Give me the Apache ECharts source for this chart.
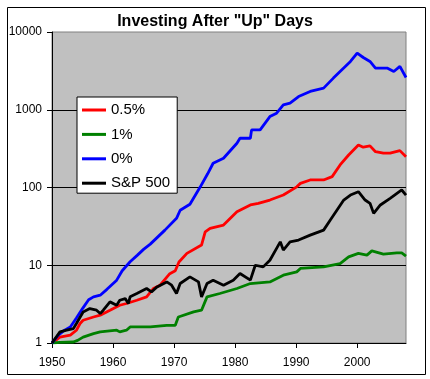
<!DOCTYPE html>
<html>
<head>
<meta charset="utf-8">
<script src="https://cdn.jsdelivr.net/npm/echarts@6/dist/echarts.min.js"></script>
<style>
html,body{margin:0;padding:0;background:#fff;}
#chart{width:430px;height:379px;}
</style>
</head>
<body>
<div id="chart"></div>
<script>
var chartTitle = 'Investing After "Up" Days';
var seriesNames = ['0.5%', '1%', '0%', 'S&P 500'];
var xTickLabels = [1950, 1960, 1970, 1980, 1990, 2000];
var yTickLabels = [1, 10, 100, 1000, 10000];

var redYears = [1950,1951.3,1953,1954,1954.6,1955.1,1956.8,1957.9,1959.5,1961.1,1962.2,1963.9,1965.5,1966.6,1967.7,1969.3,1970.2,1970.8,1972.1,1974.5,1975.1,1975.9,1978.1,1980.3,1982.5,1983.8,1985.7,1987.9,1990.1,1990.7,1992.3,1994.5,1995.9,1997.2,1998.6,2000.2,2001,2002.1,2003,2004.3,2005.4,2007,2008];
var redValues = [1.0,1.19,1.26,1.46,1.78,1.96,2.16,2.28,2.64,3.06,3.22,3.55,3.92,5.02,5.54,7.8,8.5,11,14.2,18.2,26.9,29.8,32.9,48.8,59.6,62.6,69,80,102,113,125,125,138,195,262,353,330,343,289,276,276,298,249];

var greenYears = [1950,1951.3,1953.5,1954.2,1955.1,1956.8,1957.9,1960.6,1961.1,1962.2,1962.8,1966.1,1968.8,1970.2,1970.7,1973.2,1974.5,1975.4,1977.5,1980.3,1982.5,1985.7,1987.9,1990.1,1990.7,1994.5,1997.2,1998.6,2000.2,2001.6,2002.4,2004.3,2006.5,2007.3,2008];
var greenValues = [1.0,1.02,1.03,1.08,1.19,1.32,1.39,1.46,1.39,1.46,1.61,1.61,1.69,1.69,2.16,2.51,2.64,3.92,4.33,5.02,5.82,6.11,7.45,8.22,9.1,9.53,10.5,12.8,14.2,13.5,15.3,13.9,14.4,14.4,13.1];

var blueYears = [1950,1951,1952,1953,1954,1955,1956,1956.8,1957.9,1959,1960.6,1961.5,1962.8,1964,1965,1966.1,1967.3,1968.5,1970.4,1971,1972.6,1974.3,1975.5,1976.4,1978.1,1980.3,1980.8,1982.5,1982.7,1984.1,1985.7,1986.8,1987.9,1989,1990.4,1992.3,1994.5,1996.1,1997.2,1998.9,2000,2001,2002.1,2003,2004.9,2006,2007,2008];
var blueValues = [1.0,1.25,1.45,1.61,2.1,2.77,3.6,3.92,4.12,4.9,6.43,8.5,11.1,13.5,16,18.7,23,28.3,40.1,51,61,102,150,205,238,371,430,430,551,551,817,904,1156,1217,1479,1718,1897,2553,3107,4177,5360,4700,4177,3436,3436,3107,3606,2600];

var spYears = [1950,1951.3,1952.4,1953.5,1954,1955.1,1956.2,1957.3,1957.9,1958.4,1959.5,1960.6,1961.1,1962,1962.5,1962.8,1963.9,1965.5,1966.3,1967.2,1968.8,1969.6,1970.4,1971,1972.6,1974,1974.5,1975.4,1976.4,1978.1,1979.7,1980.8,1982.5,1983.3,1984.6,1985.7,1986.8,1987.4,1987.9,1989,1990.4,1992.3,1994.5,1995.6,1996.7,1997.8,1998.9,2000.2,2001.3,2002.1,2002.7,2003.8,2005.4,2007.3,2008];
var spValues = [1.0,1.39,1.46,1.53,1.78,2.51,2.77,2.64,2.39,2.64,3.38,3.06,3.55,3.73,3.22,3.92,4.33,5.02,4.54,5.27,6.11,5.54,4.33,5.82,7.09,6.11,3.92,5.82,6.43,5.54,6.43,7.84,6.43,10.0,9.53,11.6,16.5,20.0,15.7,20.0,21.1,24.4,28.3,38.1,51.3,69.0,80.0,88.3,69.0,62.6,46.5,59.6,72.6,92.9,80];

function pairs(xs, ys) {
  var out = [];
  for (var i = 0; i < xs.length; i++) out.push([xs[i], ys[i]]);
  return out;
}

var font = 'Arial, "Liberation Sans", sans-serif';
var chart = echarts.init(document.getElementById('chart'), null, {renderer: 'canvas'});

function mkSeries(name, color, data) {
  return {
    name: name, type: 'line', data: data, showSymbol: false, symbol: 'none',
    smooth: false, lineStyle: {color: color, width: 2.8}, itemStyle: {color: color},
    emphasis: {disabled: true}
  };
}

chart.setOption({
  animation: false,
  backgroundColor: '#ffffff',
  title: {
    text: chartTitle, left: 'center', top: 9,
    textStyle: {fontFamily: font, fontWeight: 'bold', fontSize: 16, color: '#000'}
  },
  graphic: [{
    type: 'rect', left: 5, top: 5, silent: true,
    shape: {x: 0, y: 0, width: 418, height: 367},
    style: {fill: null, stroke: '#000', lineWidth: 1}
  }],
  legend: {
    orient: 'vertical', left: 77, top: 97,
    data: seriesNames,
    icon: 'rect', itemWidth: 24, itemHeight: 3, itemGap: 6.4,
    backgroundColor: '#ffffff', borderColor: '#000', borderWidth: 1, borderRadius: 0,
    padding: [4, 7, 1, 5],
    textStyle: {fontFamily: font, fontSize: 15, color: '#000', lineHeight: 18}
  },
  grid: {
    left: 52, top: 32, right: 24, bottom: 36,
    show: true, backgroundColor: '#C0C0C0', borderColor: '#808080', borderWidth: 1,
    containLabel: false, outerBoundsMode: 'none'
  },
  xAxis: {
    type: 'value', min: 1950, max: 2008, interval: 10,
    axisLine: {show: true, lineStyle: {color: '#000', width: 1}},
    axisTick: {show: true, inside: false, length: 5, lineStyle: {color: '#000'}, customValues: xTickLabels},
    axisLabel: {fontFamily: font, fontSize: 12, color: '#000', margin: 14, customValues: xTickLabels,
      formatter: function (v) { return String(v); }},
    splitLine: {show: false}
  },
  yAxis: {
    type: 'log', logBase: 10, min: 1, max: 10000,
    axisLine: {show: true, lineStyle: {color: '#000', width: 1}},
    axisTick: {show: true, inside: false, length: 5, lineStyle: {color: '#000'}},
    axisLabel: {fontFamily: font, fontSize: 12, color: '#000', margin: 10,
      formatter: function (v) { return String(Math.round(v)); }},
    splitLine: {show: true, showMinLine: false, showMaxLine: false, lineStyle: {color: '#000', width: 1}},
    minorTick: {show: false}, minorSplitLine: {show: false}
  },
  series: [
    mkSeries(seriesNames[0], '#FF0000', pairs(redYears, redValues)),
    mkSeries(seriesNames[1], '#008000', pairs(greenYears, greenValues)),
    mkSeries(seriesNames[2], '#0000FF', pairs(blueYears, blueValues)),
    mkSeries(seriesNames[3], '#000000', pairs(spYears, spValues))
  ]
});
</script>
</body>
</html>
